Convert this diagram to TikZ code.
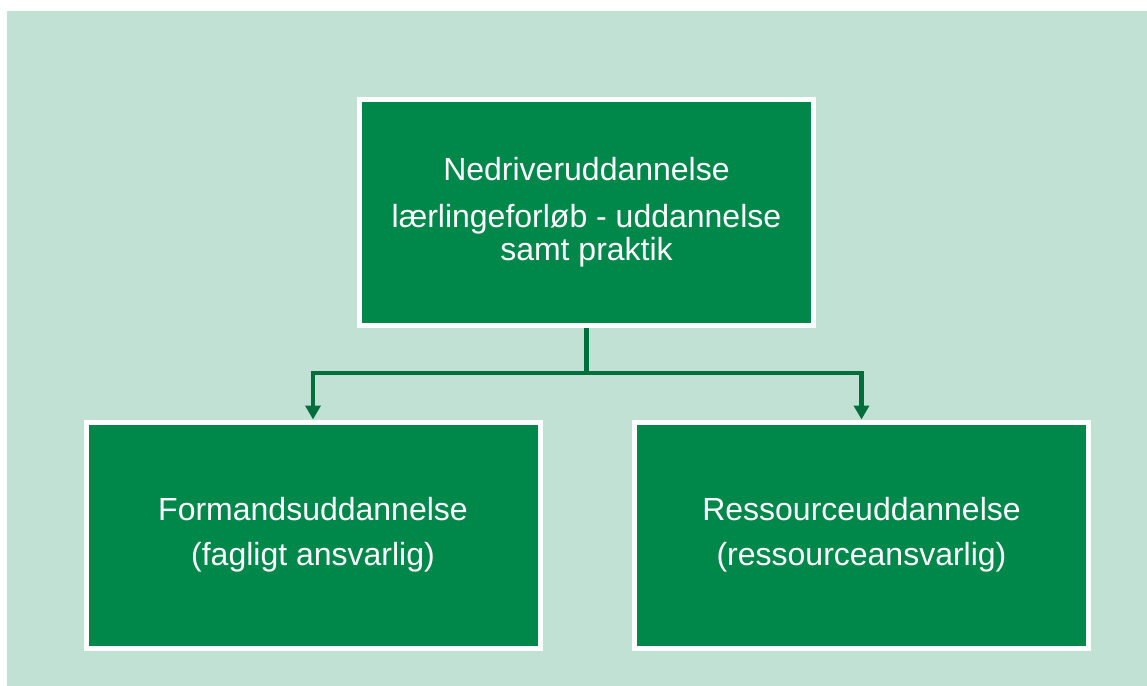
\documentclass[tikz,border=0pt]{standalone}
\usepackage{fontspec}
\setmainfont{Liberation Sans}
\usetikzlibrary{arrows.meta, positioning, calc}
\definecolor{bgmint}{HTML}{C0E1D3}
\definecolor{boxgreen}{HTML}{00884A}
\definecolor{linkgreen}{HTML}{006F3C}

\begin{document}
\begin{tikzpicture}[
    x=0.5pt, y=-0.5pt,
    box/.style={draw=white, fill=boxgreen, line width=2.5pt, align=center, text=white,
      minimum width=227pt, minimum height=113pt, inner sep=0pt, font=\fontsize{16}{22.5}\selectfont},
    arrow/.style={-{Triangle[width=7.5pt,length=7pt]}, draw=linkgreen, line width=2.3pt}
  ]
  \useasboundingbox (0,0) rectangle (1147,686);
  \fill[bgmint] (7,11) rectangle (1147,686);
  \node[box] (top) at (586.5,212.5) {Nedriveruddannelse\\[1pt]l\ae rlingeforl\o b - uddannelse\\[-6pt]samt praktik};
  \node[box] (formand) at (313,535) {Formandsuddannelse\\(fagligt ansvarlig)};
  \node[box] (ressource) at (861.5,535) {Ressourceuddannelse\\(ressourceansvarlig)};
  \draw[arrow] (top.south) -- ++(0,45) -| (formand.north);
  \draw[arrow] (top.south) -- ++(0,45) -| (ressource.north);
\end{tikzpicture}
\end{document}
